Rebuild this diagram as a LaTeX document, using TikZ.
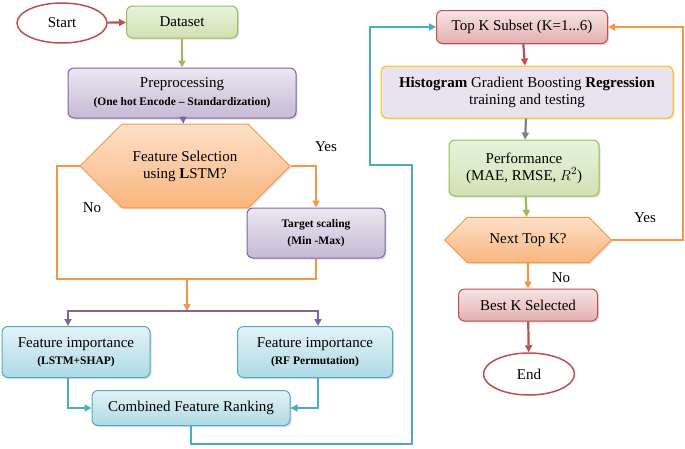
\documentclass[tikz,border=0pt]{standalone}
\usepackage{fontspec}
\setmainfont{Liberation Serif}
\usetikzlibrary{shapes.geometric,shapes.misc,arrows.meta,shadows}
\definecolor{gB}{HTML}{9BBB59}\definecolor{pB}{HTML}{8064A2}
\definecolor{oB}{HTML}{F79646}\definecolor{bB}{HTML}{4BACC6}
\definecolor{rB}{HTML}{C0504D}\definecolor{yB}{HTML}{FFC000}
\tikzset{
 base/.style={draw,line width=1pt,rounded corners=6pt,align=center,inner sep=0pt,
   drop shadow={shadow xshift=1.5pt,shadow yshift=-1.5pt,opacity=.25}},
 green/.style={base,draw=gB,top color=green!5!white!85!gB,bottom color=gB!45},
 purple/.style={base,draw=pB,top color=pB!15,bottom color=pB!45},
 blue/.style={base,draw=bB,top color=bB!15,bottom color=bB!45},
 red/.style={base,draw=rB,top color=rB!15,bottom color=rB!45},
 hgb/.style={base,draw=yB,fill=pB!18},
 hex/.style={chamfered rectangle,draw=oB,line width=1pt,inner sep=0pt,align=center,
   top color=oB!30,bottom color=oB!70,
   drop shadow={shadow xshift=1.5pt,shadow yshift=-1.5pt,opacity=.25}},
 term/.style={ellipse,draw=rB,line width=1.5pt,fill=white,inner sep=0pt},
 ar/.style={line width=2.2pt,-{Triangle[length=7pt,width=7pt]}},
 ln/.style={line width=2.2pt},
 lab/.style={font=\fontsize{15}{17}\selectfont},
}
\begin{document}
\begin{tikzpicture}[x=1pt,y=-1pt,font=\fontsize{15}{17}\selectfont]
\useasboundingbox (0,0) rectangle (685,448);
\newcommand\sm[1]{{\fontsize{11.5}{13}\selectfont\bfseries #1}}
\node[term,minimum width=90,minimum height=40] (start) at (62,23) {Start};
\node[green,minimum width=111,minimum height=32] (data) at (182,22) {Dataset};
\node[purple,minimum width=228,minimum height=50] (pre) at (182,93) {Preprocessing\\[1pt]\sm{(One hot Encode -- Standardization)}};
\node[hex,minimum width=210,minimum height=53,chamfered rectangle xsep=27,chamfered rectangle ysep=26.5] (fs) at (185,166) {Feature Selection\\using \textbf{L}STM?};
\node[purple,minimum width=138,minimum height=50] (ts) at (316,233) {\sm{Target scaling}\\\sm{(Min -Max)}};
\coordinate (m) at (187,279);
\coordinate (s) at (187,311);
\node[blue,minimum width=148,minimum height=51] (fi1) at (76,352) {Feature importance\\\sm{(LSTM+SHAP)}};
\node[blue,minimum width=155,minimum height=51] (fi2) at (315,352) {Feature importance\\\sm{(RF Permutation)}};
\node[blue,minimum width=198,minimum height=35] (cfr) at (191,408) {Combined Feature Ranking};
\node[red,minimum width=171,minimum height=33] (topk) at (522,27) {Top K Subset (K=1...6)};
\node[hgb,minimum width=292,minimum height=52] (hgb) at (527,92) {\textbf{Histogram} Gradient Boosting \textbf{Regression}\\training and testing};
\node[green,minimum width=150,minimum height=56] (perf) at (524,168) {Performance\\(MAE, RMSE, $R^2$)};
\node[hex,minimum width=167,minimum height=32,chamfered rectangle xsep=25,chamfered rectangle ysep=16] (next) at (528,240) {Next Top K?};
\node[red,minimum width=139,minimum height=32] (best) at (528,305) {Best K Selected};
\node[term,minimum width=91,minimum height=42] (end) at (529,374) {End};

\draw[ar,rB] (start) -- (data);
\draw[ar,gB] (data) -- (pre);
\draw[ar,pB] (pre) -- (fs);
\draw[ar,oB] (fs.east) -| (ts.north);
\draw[ln,oB] (fs.west) -| (57,279) -| (ts.south);
\draw[ar,oB] (m) -- (s);
\draw[ar,pB] (s) -| (fi1.north -| 68,0);
\draw[ar,pB] (s) -| (fi2.north -| 318,0);
\draw[ar,bB] (fi1.south -| 68,0) |- (cfr.west);
\draw[ar,bB] (fi2.south -| 318,0) |- (cfr.east);
\draw[ar,bB] (cfr.south) -- (191,444) -- (412,444) -- (412,165) -- (370,165) |- (topk.west);
\draw[ar,rB] (topk) -- (hgb);
\draw[ar,gray] (hgb) -- (perf);
\draw[ar,gB] (perf) -- (next);
\draw[ar,oB] (next.east) -- (683,240) |- (topk.east);
\draw[ar,oB] (next) -- (best);
\draw[ar,rB] (best) -- (end);
\node[lab] (y1) at (326,147) {Yes};
\node[lab] (n1) at (92,208) {No};
\node[lab] (y2) at (645,218) {Yes};
\node[lab] (n2) at (561,278) {No};
\end{tikzpicture}
\end{document}
